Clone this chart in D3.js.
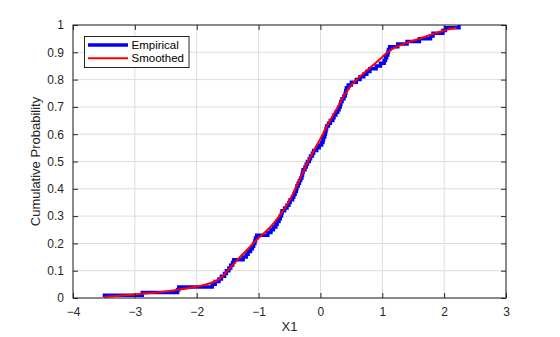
<!DOCTYPE html>
<html><head><meta charset="utf-8">
<script src="https://cdn.jsdelivr.net/npm/d3@7"></script>
<style>
body{margin:0;background:#fff;}
text{font-family:"Liberation Sans",Arial,Helvetica,sans-serif;}
</style></head>
<body><svg id="c" width="560" height="337"></svg>
<script>
// Sorted sample values (empirical CDF, n = 100)
const sampleX = [-3.52,-2.88,-2.31,-2.29,-1.75,-1.70,-1.64,-1.60,-1.55,-1.52,
 -1.48,-1.45,-1.42,-1.40,-1.25,-1.20,-1.17,-1.13,-1.10,-1.08,
 -1.06,-1.05,-1.03,-0.85,-0.80,-0.76,-0.72,-0.70,-0.67,-0.65,
 -0.63,-0.62,-0.58,-0.54,-0.51,-0.49,-0.45,-0.43,-0.41,-0.39,
 -0.38,-0.36,-0.34,-0.32,-0.30,-0.29,-0.28,-0.25,-0.23,-0.21,
 -0.18,-0.16,-0.13,-0.11,-0.06,-0.02,0.02,0.04,0.05,0.07,
 0.08,0.09,0.10,0.13,0.16,0.20,0.22,0.25,0.28,0.30,
 0.32,0.33,0.35,0.38,0.40,0.41,0.42,0.45,0.50,0.58,
 0.64,0.70,0.75,0.80,0.90,0.97,1.03,1.05,1.07,1.09,
 1.10,1.12,1.25,1.40,1.60,1.78,1.82,1.98,2.02,2.24];
// Smoothed CDF
const smoothX = [-3.5,-3.0,-2.5,-2.3,-2.0,-1.8,-1.6,-1.5,-1.4,-1.3,-1.2,-1.1,-1.0,-0.9,-0.8,-0.7,-0.6,-0.5,-0.4,-0.3,-0.2,-0.1,0.0,0.1,0.2,0.3,0.4,0.5,0.6,0.7,0.8,0.9,1.0,1.1,1.2,1.4,1.6,1.8,2.0,2.2];
const smoothY = [0.004,0.013,0.024,0.030,0.042,0.053,0.075,0.100,0.125,0.150,0.173,0.197,0.220,0.240,0.262,0.290,0.322,0.357,0.402,0.452,0.500,0.543,0.583,0.628,0.668,0.708,0.748,0.779,0.803,0.823,0.843,0.863,0.883,0.903,0.917,0.935,0.950,0.965,0.980,0.990];
const xTicks = [-4,-3,-2,-1,0,1,2,3];
const yTicks = [0,0.1,0.2,0.3,0.4,0.5,0.6,0.7,0.8,0.9,1];
const xLabel = "X1", yLabel = "Cumulative Probability";
const legendNames = ["Empirical","Smoothed"];

const svg = d3.select("#c");
const L=73,R=506,T=25,B=298;
const x = d3.scaleLinear().domain([-4,3]).range([L,R]);
const y = d3.scaleLinear().domain([0,1]).range([B,T]);

// grid
const g = svg.append("g");
g.selectAll(".gx").data(xTicks).enter().append("line")
 .attr("x1",d=>x(d)).attr("x2",d=>x(d)).attr("y1",T).attr("y2",B)
 .attr("stroke","#dcdcdc").attr("stroke-width",1);
g.selectAll(".gy").data(yTicks).enter().append("line")
 .attr("x1",L).attr("x2",R).attr("y1",d=>y(d)).attr("y2",d=>y(d))
 .attr("stroke","#dcdcdc").attr("stroke-width",1);

// empirical stairs
const n = sampleX.length;
const stairs=[];
for(let i=0;i<n;i++){
  if(i>0) stairs.push([sampleX[i], i/n]);
  stairs.push([sampleX[i], (i+1)/n]);
}
svg.append("path").datum(stairs)
 .attr("d", d3.line().x(d=>x(d[0])).y(d=>y(d[1])))
 .attr("fill","none").attr("stroke","#0000ff").attr("stroke-width",3.5).attr("stroke-linejoin","miter");

// smoothed
const sm = smoothX.map((v,i)=>[v,smoothY[i]]);
svg.append("path").datum(sm)
 .attr("d", d3.line().curve(d3.curveMonotoneX).x(d=>x(d[0])).y(d=>y(d[1])))
 .attr("fill","none").attr("stroke","#ff0000").attr("stroke-width",2);

// axes box
svg.append("rect").attr("x",L).attr("y",T).attr("width",R-L).attr("height",B-T)
 .attr("fill","none").attr("stroke","#262626").attr("stroke-width",1);

const ax = svg.append("g").attr("transform",`translate(0,${B})`)
 .call(d3.axisBottom(x).tickValues(xTicks).tickSize(-5).tickPadding(9).tickFormat(d3.format("d")));
const ay = svg.append("g").attr("transform",`translate(${L},0)`)
 .call(d3.axisLeft(y).tickValues(yTicks).tickSize(-5).tickPadding(9).tickFormat(d=>d===0?"0":d===1?"1":d3.format(".1f")(d)));
const axT = svg.append("g").attr("transform",`translate(0,${T})`)
 .call(d3.axisTop(x).tickValues(xTicks).tickSize(-5).tickFormat(""));
const ayR = svg.append("g").attr("transform",`translate(${R},0)`)
 .call(d3.axisRight(y).tickValues(yTicks).tickSize(-5).tickFormat(""));
[ax,ay,axT,ayR].forEach(a=>{
  a.select(".domain").remove();
  a.selectAll("line").attr("stroke","#262626");
  a.selectAll("text").attr("fill","#262626").style("font-size","12px").style("font-family","'Liberation Sans',Arial,sans-serif");
});

svg.append("text").attr("x",(L+R)/2).attr("y",331).attr("text-anchor","middle")
 .attr("fill","#262626").style("font-size","13px").text(xLabel);
svg.append("text").attr("transform",`translate(40,${(T+B)/2}) rotate(-90)`).attr("text-anchor","middle")
 .attr("fill","#262626").style("font-size","13px").text(yLabel);

// legend
const lg = svg.append("g");
lg.append("rect").attr("x",84.5).attr("y",36.5).attr("width",104.5).attr("height",31)
 .attr("fill","#fff").attr("stroke","#262626").attr("stroke-width",1);
const cols=["#0000ff","#ff0000"], widths=[3.5,2];
legendNames.forEach((nm,i)=>{
  const yy = 45 + i*13.3;
  lg.append("line").attr("x1",88).attr("x2",128).attr("y1",yy).attr("y2",yy)
    .attr("stroke",cols[i]).attr("stroke-width",widths[i]);
  lg.append("text").attr("x",131.5).attr("y",yy+4).attr("fill","#000")
    .style("font-size","11.5px").text(nm);
});
</script></body></html>
